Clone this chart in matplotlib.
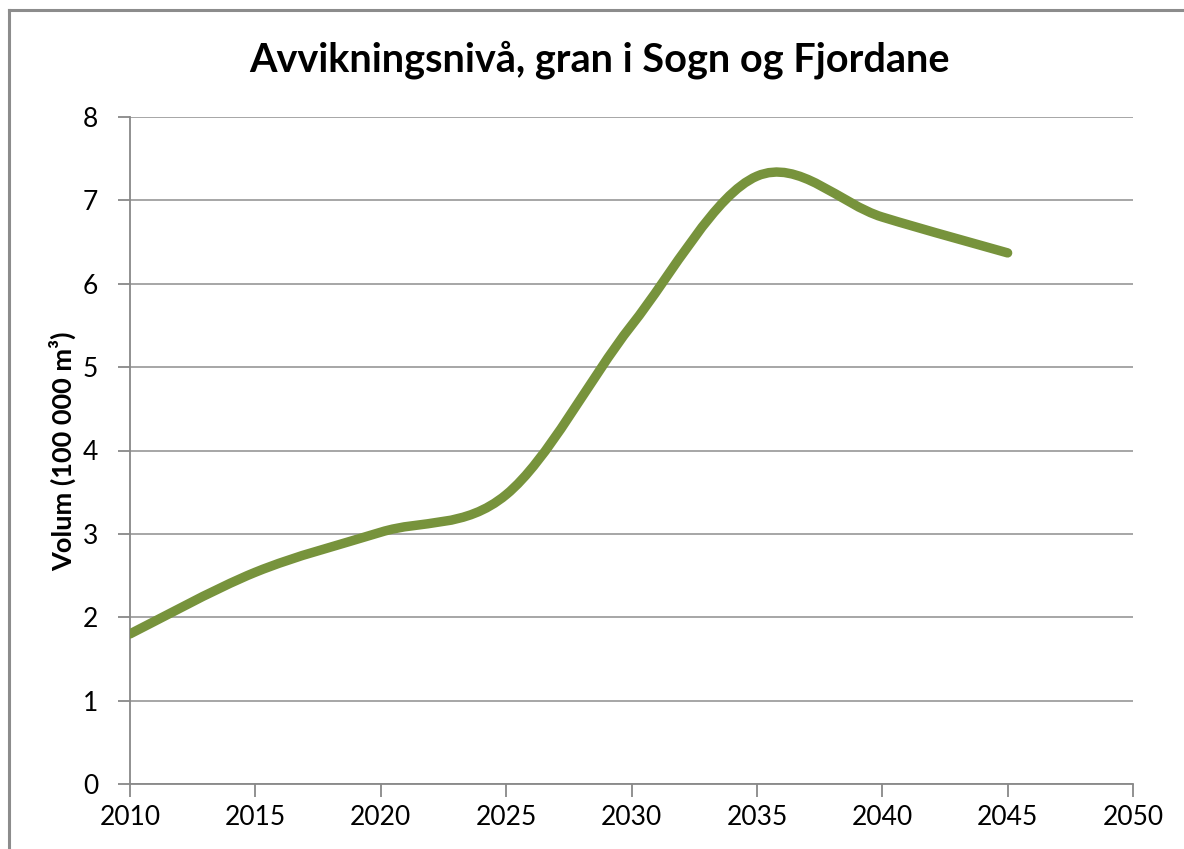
import numpy as np
import matplotlib.pyplot as plt
from matplotlib.path import Path
from matplotlib.patches import PathPatch
from matplotlib.lines import Line2D

plt.rcParams['font.family'] = ['Lato', 'DejaVu Sans']

years = [2010, 2015, 2020, 2025, 2030, 2035, 2040, 2045]
volume = [1.8, 2.54, 3.02, 3.47, 5.5, 7.29, 6.8, 6.37]
x_ticks = [2010, 2015, 2020, 2025, 2030, 2035, 2040, 2045, 2050]
y_ticks = [0, 1, 2, 3, 4, 5, 6, 7, 8]

line_color = '#77933C'
axis_color = '#888888'
grid_color = '#A6A6A6'


# Excel-style smoothed line: cubic Bezier through the data points
def smooth_path(xs, ys):
    pts = np.column_stack([xs, ys]).astype(float)
    n = len(pts)
    verts = [pts[0]]
    codes = [Path.MOVETO]
    for i in range(n - 1):
        p0 = pts[max(i - 1, 0)]
        p1 = pts[i]
        p2 = pts[i + 1]
        p3 = pts[min(i + 2, n - 1)]
        c1 = p1 + (p2 - p0) / 6
        c2 = p2 - (p3 - p1) / 6
        verts += [c1, c2, p2]
        codes += [Path.CURVE4] * 3
    return Path(verts, codes)


fig = plt.figure(figsize=(11.84, 8.49), dpi=100)
ax = fig.add_axes([130 / 1184, 1 - 784 / 849, 1003 / 1184, 667 / 849])

# outer chart border (only top and left are inside the picture)
bx, by = 9 / 1184, 1 - 10 / 849
fig.lines.append(Line2D([bx, 1.0], [by, by], transform=fig.transFigure,
                        color='#8C8C8C', linewidth=2.2))
fig.lines.append(Line2D([bx, bx], [0.0, by], transform=fig.transFigure,
                        color='#8C8C8C', linewidth=2.2))

patch = PathPatch(smooth_path(years, volume), facecolor='none',
                  edgecolor=line_color, linewidth=6.8, capstyle='round',
                  joinstyle='round', zorder=3)
ax.add_patch(patch)

ax.set_xlim(2010, 2050)
ax.set_ylim(0, 8)
ax.set_xticks(x_ticks)
ax.set_yticks(y_ticks)
ax.yaxis.grid(True, color=grid_color, linewidth=1.4)
ax.set_axisbelow(True)

for s in ['top', 'right']:
    ax.spines[s].set_visible(False)
for s in ['left', 'bottom']:
    ax.spines[s].set_color(axis_color)
    ax.spines[s].set_linewidth(1.3)

ax.tick_params(axis='both', colors=axis_color, labelcolor='black',
               labelsize=19, length=9, width=1.3)
ax.tick_params(axis='y', pad=14)
ax.tick_params(axis='x', pad=6)

fig.text(599 / 1184, 1 - 60 / 849, 'Avvikningsnivå, gran i Sogn og Fjordane',
         ha='center', va='center', fontsize=28.5, fontweight='bold')
fig.text(63 / 1184, 1 - 451 / 849, 'Volum (100 000 m³)', rotation=90,
         ha='center', va='center', fontsize=19.5, fontweight='bold')

fig.savefig('out.png', dpi=100)
